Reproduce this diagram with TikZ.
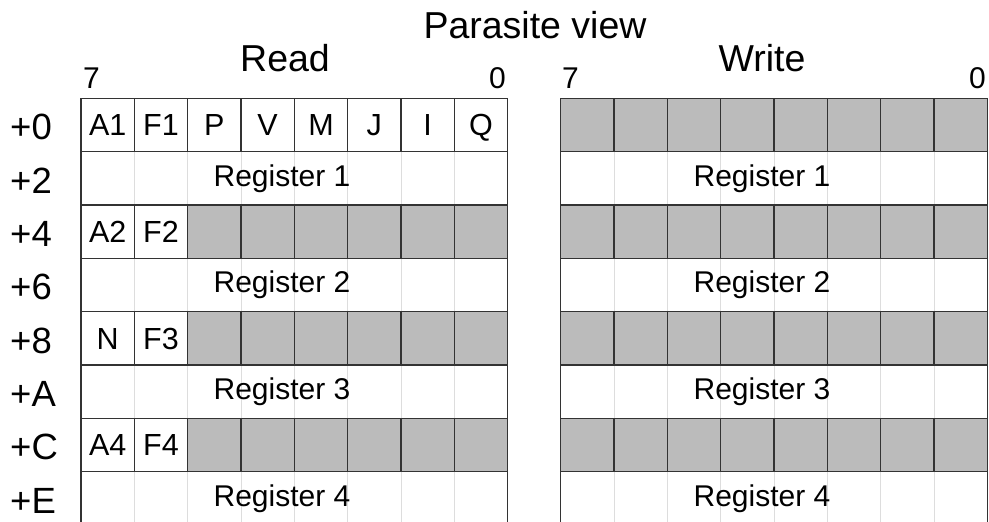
\documentclass[tikz,border=0pt]{standalone}
\usepackage{fontspec}
\setmainfont{Liberation Sans}
\definecolor{gridline}{HTML}{333333}
\definecolor{reserved}{HTML}{BBBBBB}
\definecolor{faint}{HTML}{DDDDDD}
\tikzset{
  cellbase/.style={draw=gridline, line width=1.3pt, minimum width=53.333pt,
    minimum height=53.333pt, inner sep=0pt, outer sep=0pt, anchor=north west},
  bitcell/.style={cellbase, fill=white, font=\fontsize{30.5}{30.5}\selectfont,
    text height=21.9pt, text depth=0pt},
  graycell/.style={cellbase, fill=reserved},
  regframe/.style={draw=gridline, line width=1.3pt, minimum width=426.667pt,
    minimum height=53.333pt, inner sep=0pt, outer sep=0pt, anchor=north west},
  reglabel/.style={font=\fontsize{30}{30}\selectfont, anchor=base, inner sep=0pt},
  faintline/.style={draw=faint, line width=1pt},
  titletext/.style={font=\fontsize{37.5}{37.5}\selectfont, anchor=base, inner sep=0pt},
  bitnum/.style={font=\fontsize{30}{30}\selectfont, inner sep=0pt},
  offlabel/.style={font=\fontsize{36.5}{36.5}\selectfont, anchor=west, inner sep=0pt},
}
\begin{document}
\begin{tikzpicture}[x=1pt,y=-1pt]
\useasboundingbox (0,0) rectangle (989,522);

% headings
\node[titletext] (parasite) at (535,38) {Parasite view};
\node[titletext] (read) at (285,71) {Read};
\node[titletext] (write) at (762,71) {Write};

% bit numbers
\node[bitnum, anchor=base west] (rd7) at (83,88) {7};
\node[bitnum, anchor=base east] (rd0) at (506,88) {0};
\node[bitnum, anchor=base west] (wr7) at (562,88) {7};
\node[bitnum, anchor=base east] (wr0) at (986,88) {0};

% offsets
\foreach \lab [count=\r from 0] in {+0,+2,+4,+6,+8,+A,+C,+E}
  \node[offlabel] (off\r) at (10,{98.333+\r*53.333+29}) {\lab};

% register rows (both sides)
\foreach \r/\name in {1/Register 1,3/Register 2,5/Register 3,7/Register 4}{
  \foreach \gx/\side/\cx in {81/rd/282,560.667/wr/762}{
    \foreach \k in {1,...,7}
      \draw[faintline] ({\gx+\k*53.333},{98.333+\r*53.333}) -- ++(0,53.333);
    \node[regframe] (\side-reg\r) at (\gx,{98.333+\r*53.333}) {};
    \node[reglabel] (\side-lab\r) at (\cx,{98.333+\r*53.333+34.5}) {\name};
  }
}

% read side: flag rows
\foreach \t [count=\i from 0] in {A1,F1,P,V,M,J,I,Q}
  \node[bitcell] (rd-0-\i) at ({81+\i*53.333},98.333) {\t};
\foreach \r/\ta/\tb in {2/A2/F2,4/N/F3,6/A4/F4}{
  \node[bitcell] (rd-\r-0) at (81,{98.333+\r*53.333}) {\ta};
  \node[bitcell] (rd-\r-1) at (134.333,{98.333+\r*53.333}) {\tb};
  \foreach \i in {2,...,7}
    \node[graycell] (rd-\r-\i) at ({81+\i*53.333},{98.333+\r*53.333}) {};
}

% write side: reserved rows
\foreach \r in {0,2,4,6}
  \foreach \i in {0,...,7}
    \node[graycell] (wr-\r-\i) at ({560.667+\i*53.333},{98.333+\r*53.333}) {};
\end{tikzpicture}
\end{document}
